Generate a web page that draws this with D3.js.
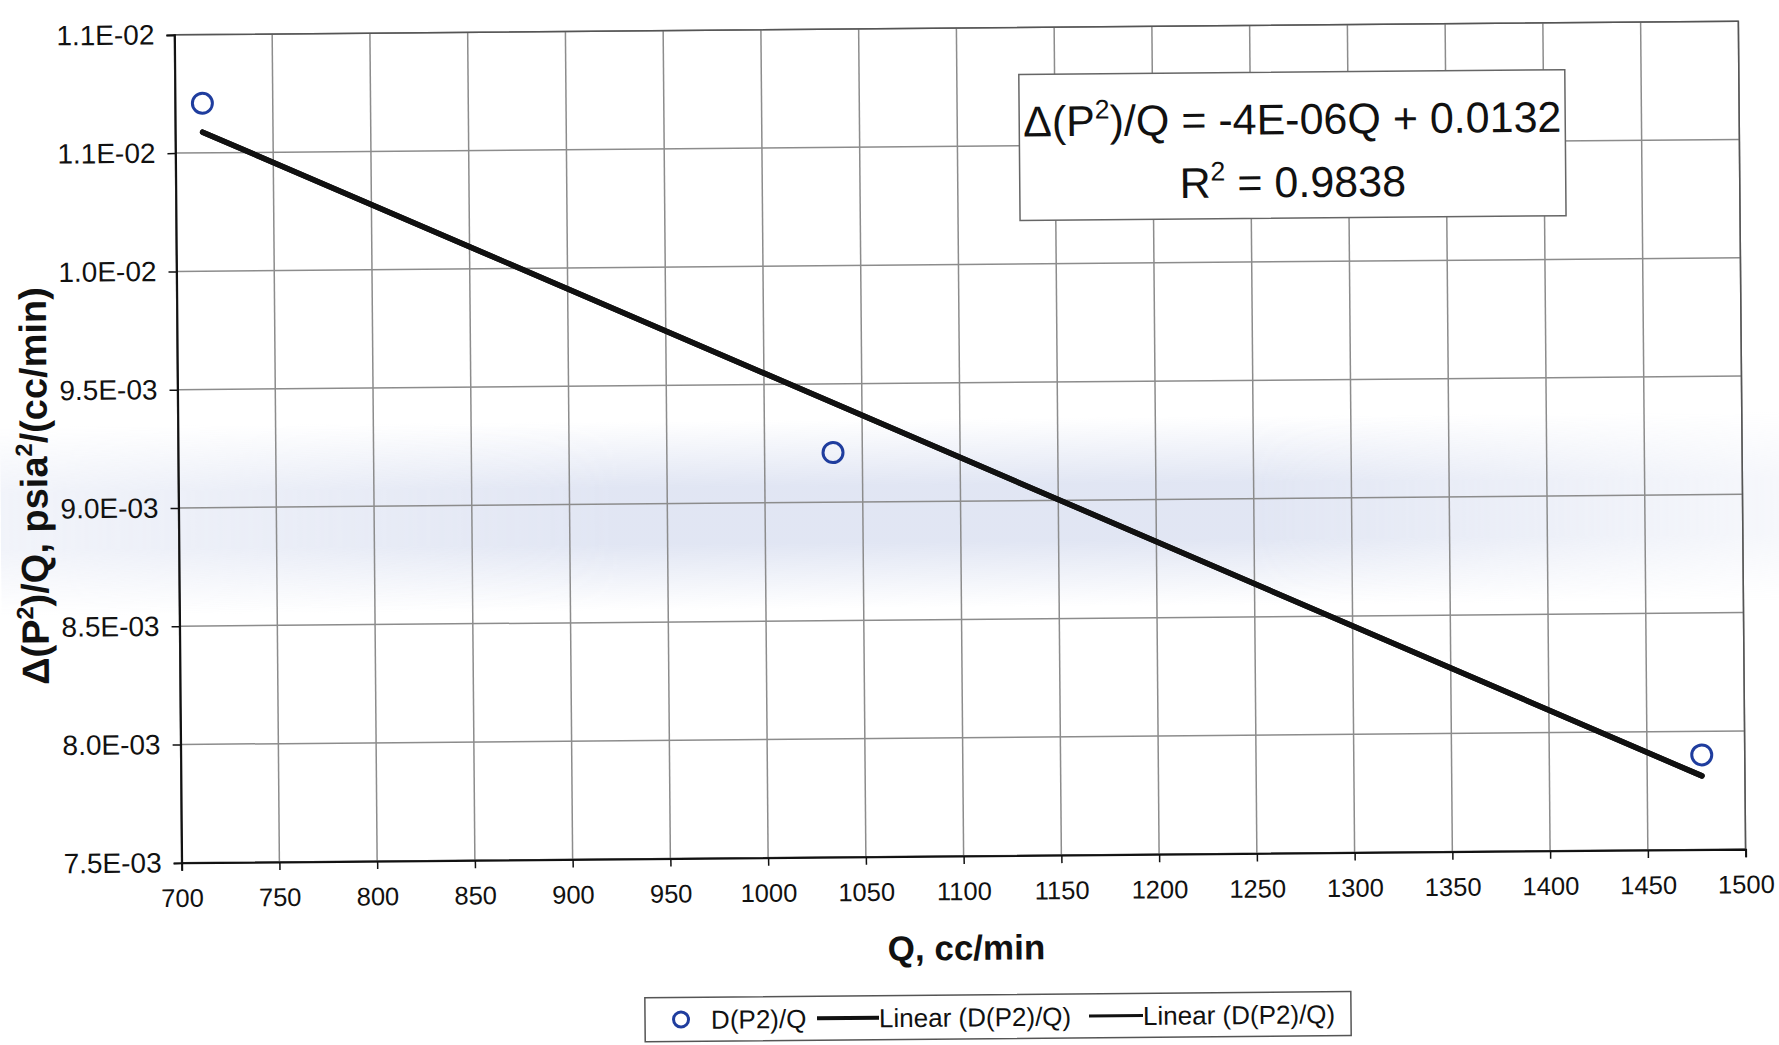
<!DOCTYPE html>
<html>
<head>
<meta charset="utf-8">
<script src="https://cdn.jsdelivr.net/npm/d3@7"></script>
<style>
  html, body { margin: 0; padding: 0; background: #ffffff; }
  svg { display: block; }
  text { font-family: "Liberation Sans", Arial, sans-serif; fill: #111; }
</style>
</head>
<body>
<svg id="chart" width="1779" height="1045"></svg>
<script>
// Flow rate Q (cc/min) and measured Δ(P²)/Q
const qValues = [714, 1035, 1478];
const dp2qValues = [0.01071, 0.00921, 0.00790];

// Axis ticks and their printed labels
const xTickValues = [700, 750, 800, 850, 900, 950, 1000, 1050, 1100, 1150, 1200, 1250, 1300, 1350, 1400, 1450, 1500];
const yTickValues = [0.0075, 0.0080, 0.0085, 0.0090, 0.0095, 0.0100, 0.0105, 0.0110];
const yTickLabels = ["7.5E-03", "8.0E-03", "8.5E-03", "9.0E-03", "9.5E-03", "1.0E-02", "1.1E-02", "1.1E-02"];

// Trendline annotation text
const equationLine = ["Δ(P", "2", ")/Q = -4E-06Q + 0.0132"];
const rSquaredLine = ["R", "2", " = 0.9838"];

// Legend entries
const legendLabels = ["D(P2)/Q", "Linear (D(P2)/Q)", "Linear (D(P2)/Q)"];

const svg = d3.select("#chart");
const plot = { left: 178, right: 1742, top: 28, bottom: 856 };

const x = d3.scaleLinear().domain([700, 1500]).range([plot.left, plot.right]);
const y = d3.scaleLinear().domain([0.0075, 0.011]).range([plot.bottom, plot.top]);

// The printed page sits slightly askew
const root = svg.append("g").attr("transform", "rotate(-0.5, 960, 442)");

// Soft bluish band across the middle of the sheet
const defs = svg.append("defs");
const bandGrad = defs.append("linearGradient").attr("id", "band").attr("x1", 0).attr("y1", 0).attr("x2", 0).attr("y2", 1);
bandGrad.append("stop").attr("offset", "0%").attr("stop-color", "#b4c0e2").attr("stop-opacity", 0);
bandGrad.append("stop").attr("offset", "35%").attr("stop-color", "#b4c0e2").attr("stop-opacity", 0.4);
bandGrad.append("stop").attr("offset", "65%").attr("stop-color", "#b4c0e2").attr("stop-opacity", 0.4);
bandGrad.append("stop").attr("offset", "100%").attr("stop-color", "#b4c0e2").attr("stop-opacity", 0);
const fadeGrad = defs.append("linearGradient").attr("id", "bandFade").attr("x1", 0).attr("y1", 0).attr("x2", 1).attr("y2", 0);
fadeGrad.append("stop").attr("offset", "0%").attr("stop-color", "#fff").attr("stop-opacity", 0.45);
fadeGrad.append("stop").attr("offset", "35%").attr("stop-color", "#fff").attr("stop-opacity", 1);
fadeGrad.append("stop").attr("offset", "70%").attr("stop-color", "#fff").attr("stop-opacity", 1);
fadeGrad.append("stop").attr("offset", "100%").attr("stop-color", "#fff").attr("stop-opacity", 0.3);
const mask = defs.append("mask").attr("id", "bandMask");
mask.append("rect").attr("x", 0).attr("y", 0).attr("width", 1779).attr("height", 1045).attr("fill", "url(#bandFade)");

root.append("rect")
  .attr("x", 0).attr("width", 1779)
  .attr("y", y(0.00935)).attr("height", y(0.00855) - y(0.00935))
  .attr("fill", "url(#band)")
  .attr("mask", "url(#bandMask)");

// Gridlines
root.append("g").attr("class", "grid-x")
  .selectAll("line").data(xTickValues).join("line")
  .attr("x1", d => x(d)).attr("x2", d => x(d))
  .attr("y1", plot.top).attr("y2", plot.bottom)
  .attr("stroke", "#8c8c8c").attr("stroke-width", 1.5);

root.append("g").attr("class", "grid-y")
  .selectAll("line").data(yTickValues).join("line")
  .attr("x1", plot.left).attr("x2", plot.right)
  .attr("y1", d => y(d)).attr("y2", d => y(d))
  .attr("stroke", "#8c8c8c").attr("stroke-width", 1.5);

// Plot frame
root.append("rect")
  .attr("x", plot.left).attr("y", plot.top)
  .attr("width", plot.right - plot.left).attr("height", plot.bottom - plot.top)
  .attr("fill", "none").attr("stroke", "#555").attr("stroke-width", 1.5);

// Axes
const xAxis = d3.axisBottom(x).tickValues(xTickValues).tickSize(8).tickPadding(18).tickFormat(d3.format("d"));
const gx = root.append("g").attr("transform", `translate(0,${plot.bottom})`).call(xAxis);
gx.select(".domain").attr("stroke", "#111").attr("stroke-width", 2);
gx.selectAll(".tick line").attr("stroke", "#111").attr("stroke-width", 1.5);
gx.selectAll(".tick text").attr("font-size", 25.5).attr("fill", "#111")
  .attr("font-family", '"Liberation Sans", Arial, sans-serif');

const yAxis = d3.axisLeft(y).tickValues(yTickValues).tickSize(8).tickPadding(12)
  .tickFormat((d, i) => yTickLabels[i]);
const gy = root.append("g").attr("transform", `translate(${plot.left},0)`).call(yAxis);
gy.select(".domain").attr("stroke", "#111").attr("stroke-width", 2);
gy.selectAll(".tick line").attr("stroke", "#111").attr("stroke-width", 1.5);
gy.selectAll(".tick text").attr("font-size", 28).attr("fill", "#111")
  .attr("font-family", '"Liberation Sans", Arial, sans-serif');

// Least-squares fit through the measured points
const n = qValues.length;
const mx = d3.mean(qValues), my = d3.mean(dp2qValues);
let sxy = 0, sxx = 0;
for (let i = 0; i < n; i++) {
  sxy += (qValues[i] - mx) * (dp2qValues[i] - my);
  sxx += (qValues[i] - mx) ** 2;
}
const slope = sxy / sxx;
const intercept = my - slope * mx;
const fitEnds = d3.extent(qValues).map(q => [q, slope * q + intercept]);

const fitLine = d3.line().x(d => x(d[0])).y(d => y(d[1]));
// Two linear trend series share the same fit
[0, 1].forEach(() => {
  root.append("path")
    .datum(fitEnds)
    .attr("d", fitLine)
    .attr("fill", "none")
    .attr("stroke", "#111")
    .attr("stroke-width", 5.5)
    .attr("stroke-linecap", "round");
});

// Measured points
root.append("g").selectAll("circle")
  .data(qValues.map((q, i) => [q, dp2qValues[i]]))
  .join("circle")
  .attr("cx", d => x(d[0])).attr("cy", d => y(d[1]))
  .attr("r", 10)
  .attr("fill", "none")
  .attr("stroke", "#1f3d9e")
  .attr("stroke-width", 3);

// Equation box
const box = { x: 1022, y: 75, w: 546, h: 146 };
root.append("rect")
  .attr("x", box.x).attr("y", box.y).attr("width", box.w).attr("height", box.h)
  .attr("fill", "#fff").attr("stroke", "#666").attr("stroke-width", 1.5);

function supText(parent, parts, cx, baseline, size) {
  const t = parent.append("text")
    .attr("x", cx).attr("y", baseline)
    .attr("text-anchor", "middle")
    .attr("font-size", size);
  t.append("tspan").text(parts[0]);
  t.append("tspan").attr("dy", -size * 0.4).attr("font-size", size * 0.62).text(parts[1]);
  t.append("tspan").attr("dy", size * 0.4).text(parts[2]);
  return t;
}
supText(root, equationLine, box.x + box.w / 2, 137, 43);
supText(root, rSquaredLine, box.x + box.w / 2, 200, 43);

// Axis titles
root.append("text")
  .attr("x", 962).attr("y", 960)
  .attr("text-anchor", "middle")
  .attr("font-size", 35).attr("font-weight", "bold")
  .text("Q, cc/min");

const ys = 38;
const yt = root.append("text")
  .attr("transform", `translate(47, 478) rotate(-90)`)
  .attr("text-anchor", "middle")
  .attr("font-size", ys).attr("font-weight", "bold");
yt.append("tspan").text("Δ(P");
yt.append("tspan").attr("dy", -ys * 0.4).attr("font-size", ys * 0.62).text("2");
yt.append("tspan").attr("dy", ys * 0.4).text(")/Q, psia");
yt.append("tspan").attr("dy", -ys * 0.4).attr("font-size", ys * 0.62).text("2");
yt.append("tspan").attr("dy", ys * 0.4).text("/(cc/min)");

// Legend
const lg = root.append("g");
lg.append("rect")
  .attr("x", 640).attr("y", 995).attr("width", 706).attr("height", 44)
  .attr("fill", "#fff").attr("stroke", "#555").attr("stroke-width", 1.5);
const ly = 1017;
lg.append("circle").attr("cx", 676).attr("cy", ly).attr("r", 7.5)
  .attr("fill", "none").attr("stroke", "#1f3d9e").attr("stroke-width", 3);
lg.append("text").attr("x", 706).attr("y", ly + 9.5).attr("font-size", 26).text(legendLabels[0]);
lg.append("line").attr("x1", 812).attr("x2", 874).attr("y1", ly).attr("y2", ly)
  .attr("stroke", "#111").attr("stroke-width", 4);
lg.append("text").attr("x", 874).attr("y", ly + 9.5).attr("font-size", 26).text(legendLabels[1]);
lg.append("line").attr("x1", 1084).attr("x2", 1138).attr("y1", ly).attr("y2", ly)
  .attr("stroke", "#111").attr("stroke-width", 3);
lg.append("text").attr("x", 1138).attr("y", ly + 9.5).attr("font-size", 26).text(legendLabels[2]);
</script>
</body>
</html>
